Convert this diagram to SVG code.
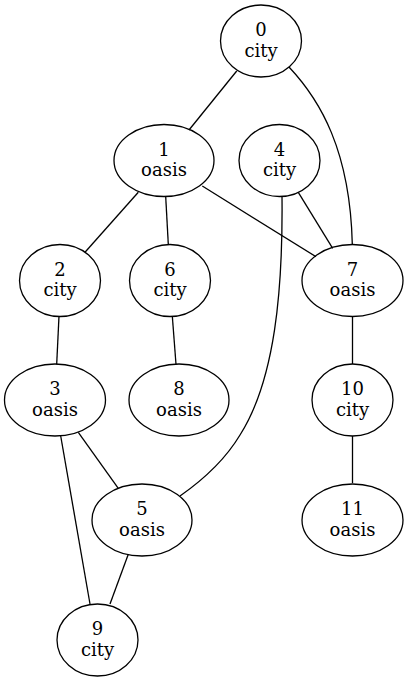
<svg xmlns="http://www.w3.org/2000/svg" width="408" height="681" viewBox="0 0 408 681">
<style>
.node ellipse{fill:none;stroke:#000;stroke-width:1.3}
.node text{font-family:"DejaVu Serif","Liberation Serif",serif;font-size:18px;text-anchor:middle;fill:#000}
#edges path,#edges line{fill:none;stroke:#000;stroke-width:1.3}
</style>
<rect width="408" height="681" fill="#fff"/>
<g id="edges">
<line x1="236.7" y1="71" x2="189" y2="130"/>
<path d="M289,67 C320,100 350,150 352.3,244"/>
<line x1="202.3" y1="186" x2="316" y2="256.7"/>
<line x1="298.3" y1="192.3" x2="332.7" y2="248.3"/>
<path d="M282,196 C283,290 275,380 240,435 C225,460 200,482 180,496"/>
<line x1="138.3" y1="192.3" x2="85" y2="252.3"/>
<line x1="165.7" y1="196.7" x2="168.3" y2="244.3"/>
<line x1="172.3" y1="316" x2="176" y2="364.3"/>
<line x1="59" y1="316" x2="56.7" y2="364.3"/>
<line x1="78.3" y1="432.3" x2="118.3" y2="488.3"/>
<line x1="60.7" y1="436" x2="90" y2="604"/>
<line x1="128.3" y1="554.3" x2="110" y2="604"/>
<line x1="352.5" y1="316" x2="352.5" y2="364"/>
<line x1="352.5" y1="436" x2="352.5" y2="483"/>
</g>
<g id="n0" class="node"><ellipse cx="261" cy="41" rx="40.5" ry="36"/><text x="261" y="36">0</text><text x="261" y="56.5">city</text></g>
<g id="n1" class="node"><ellipse cx="164" cy="160.5" rx="50" ry="36"/><text x="164" y="155.5">1</text><text x="164" y="176">oasis</text></g>
<g id="n4" class="node"><ellipse cx="279.5" cy="160.5" rx="40.5" ry="36"/><text x="279.5" y="155.5">4</text><text x="279.5" y="176">city</text></g>
<g id="n2" class="node"><ellipse cx="60" cy="280.5" rx="40.5" ry="36"/><text x="60" y="275.5">2</text><text x="60" y="296">city</text></g>
<g id="n6" class="node"><ellipse cx="170" cy="280.5" rx="40.5" ry="36"/><text x="170" y="275.5">6</text><text x="170" y="296">city</text></g>
<g id="n7" class="node"><ellipse cx="352.5" cy="280.5" rx="50.5" ry="36"/><text x="352.5" y="275.5">7</text><text x="352.5" y="296">oasis</text></g>
<g id="n3" class="node"><ellipse cx="55" cy="400" rx="50.5" ry="36"/><text x="55" y="395">3</text><text x="55" y="415.5">oasis</text></g>
<g id="n8" class="node"><ellipse cx="179" cy="400" rx="50" ry="36"/><text x="179" y="395">8</text><text x="179" y="415.5">oasis</text></g>
<g id="n10" class="node"><ellipse cx="352.5" cy="400" rx="40.5" ry="36"/><text x="352.5" y="395">10</text><text x="352.5" y="415.5">city</text></g>
<g id="n5" class="node"><ellipse cx="142" cy="520" rx="50" ry="36"/><text x="142" y="515">5</text><text x="142" y="535.5">oasis</text></g>
<g id="n11" class="node"><ellipse cx="352.5" cy="520" rx="50.5" ry="36"/><text x="352.5" y="515">11</text><text x="352.5" y="535.5">oasis</text></g>
<g id="n9" class="node"><ellipse cx="97.5" cy="640" rx="40.5" ry="36"/><text x="97.5" y="635">9</text><text x="97.5" y="655.5">city</text></g>
</svg>
